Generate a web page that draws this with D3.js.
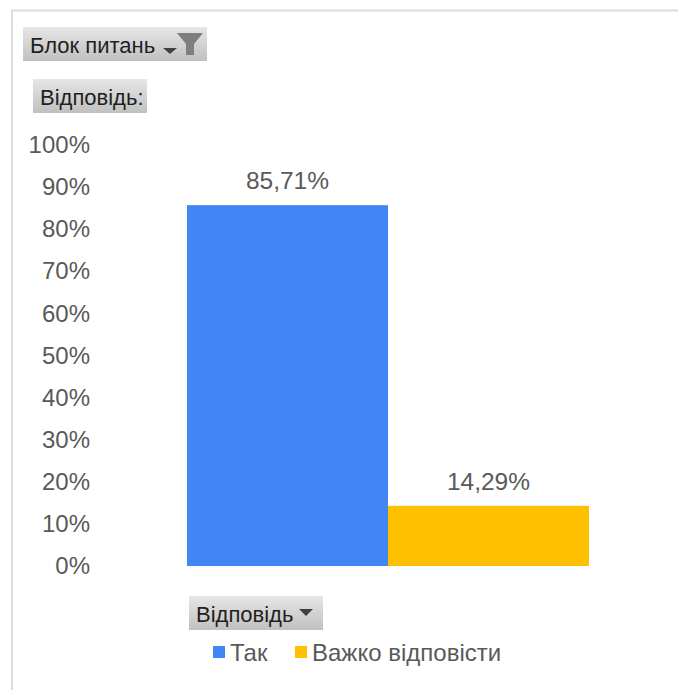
<!DOCTYPE html>
<html>
<head>
<meta charset="utf-8">
<script src="https://cdn.jsdelivr.net/npm/d3@7"></script>
<style>
  html, body { margin: 0; padding: 0; background: #fff; }
  svg { display: block; }
  text { font-family: "Liberation Sans", Arial, sans-serif; }
</style>
</head>
<body>
<div id="chart"></div>
<script>
// chart values
const categories = ["Так", "Важко відповісти"];
const shares = [85.71, 14.29];
const valueLabels = ["85,71%", "14,29%"];
const tickValues = [0, 10, 20, 30, 40, 50, 60, 70, 80, 90, 100];
const colors = ["#4285f4", "#ffc000"];

const fullWidth = 678, fullHeight = 690;
const margin = {top: 145, right: 90, bottom: 124, left: 187},
    width = fullWidth - margin.left - margin.right,
    height = fullHeight - margin.top - margin.bottom;

const root = d3.select("#chart")
    .append("svg")
    .attr("width", fullWidth)
    .attr("height", fullHeight);

// gradient of the pivot field buttons
const grad = root.append("defs").append("linearGradient")
    .attr("id", "btn")
    .attr("x1", 0).attr("y1", 0).attr("x2", 0).attr("y2", 1);
grad.append("stop").attr("offset", "0%").attr("stop-color", "#e6e6e6");
grad.append("stop").attr("offset", "100%").attr("stop-color", "#c0c0c0");

// frame of the chart area (top and left only, the crop cuts the rest)
root.append("path")
    .attr("d", "M12,690V10.5H678")
    .attr("fill", "none")
    .attr("stroke", "#dcdcdc")
    .attr("stroke-width", 2);

const svg = root.append("g")
    .attr("transform", `translate(${margin.left},${margin.top})`);

const x = d3.scaleBand()
    .domain(categories)
    .range([0, width + 1])
    .padding(0);

const y = d3.scaleLinear()
    .domain([0, 100])
    .range([height, 0]);

// Y axis, labels only
const yAxis = svg.append("g")
    .attr("transform", "translate(-97,0)")
    .call(d3.axisLeft(y).tickValues(tickValues).tickSize(0).tickPadding(0).tickFormat(d => d + "%"));
yAxis.select(".domain").remove();
yAxis.selectAll("text")
    .attr("font-family", "Liberation Sans, Arial, sans-serif")
    .style("font-size", "24px")
    .attr("fill", "#595959");

// bars
svg.selectAll("rect.bar")
    .data(categories)
    .join("rect")
    .attr("class", "bar")
    .attr("x", d => x(d))
    .attr("y", (d, i) => y(shares[i]))
    .attr("width", x.bandwidth())
    .attr("height", (d, i) => height - y(shares[i]))
    .style("fill", (d, i) => colors[i]);

// value labels above the bars
svg.selectAll("text.value")
    .data(categories)
    .join("text")
    .attr("class", "value")
    .attr("x", d => x(d) + x.bandwidth() / 2)
    .attr("y", (d, i) => y(shares[i]) - 16)
    .attr("text-anchor", "middle")
    .style("font-size", "24.5px")
    .style("fill", "#595959")
    .text((d, i) => valueLabels[i]);

// pivot field buttons
function fieldButton(bx, by, w, label) {
    const g = root.append("g").attr("transform", `translate(${bx},${by})`);
    g.append("rect")
        .attr("width", w)
        .attr("height", 34)
        .attr("fill", "url(#btn)");
    g.append("text")
        .attr("x", 7)
        .attr("y", 26)
        .style("font-size", "22px")
        .style("fill", "#1f1f1f")
        .text(label);
    return g;
}

const topButton = fieldButton(23, 27, 184, "Блок питань");
// small drop arrow + funnel
topButton.append("path").attr("d", "M140,21H154L147,27Z").attr("fill", "#404040");
topButton.append("path").attr("d", "M154,6H180L171,17V28H163V17Z").attr("fill", "#7f7f7f");

fieldButton(33, 79, 114, "Відповідь:");

const axisButton = fieldButton(189, 596, 134, "Відповідь");
axisButton.append("path").attr("d", "M110,13H124L117,20Z").attr("fill", "#404040");

// legend
const legendX = [213, 295];
const legend = root.selectAll("g.legend")
    .data(categories)
    .join("g")
    .attr("class", "legend")
    .attr("transform", (d, i) => `translate(${legendX[i]},646)`);
legend.append("rect")
    .attr("width", 12)
    .attr("height", 12)
    .style("fill", (d, i) => colors[i]);
legend.append("text")
    .attr("x", 17)
    .attr("y", 15)
    .style("font-size", "24px")
    .style("fill", "#595959")
    .text(d => d);
</script>
</body>
</html>
